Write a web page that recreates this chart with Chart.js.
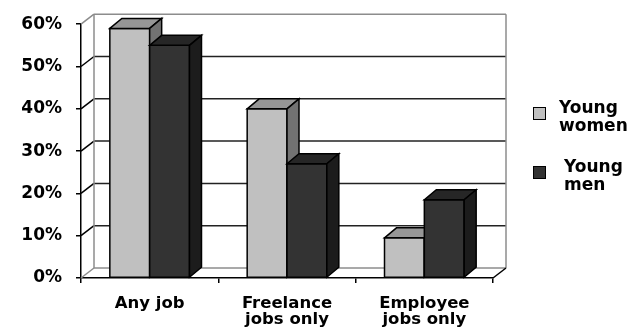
<!DOCTYPE html>
<html>
<head>
<meta charset="utf-8">
<script src="https://cdn.jsdelivr.net/npm/chart.js@4.4.0/dist/chart.umd.min.js"></script>
<style>
  html, body { margin: 0; padding: 0; background: #fff; }
  #wrap { width: 641px; height: 335px; }
</style>
</head>
<body>
<div id="wrap"><canvas id="chart" width="641" height="335"></canvas></div>
<script>
// chart data
const categories = ['Any job', ['Freelance', 'jobs only'], ['Employee', 'jobs only']];
const seriesNames = [['Young', 'women'], ['Young', 'men']];
const youngWomen = [59, 40, 9.5];
const youngMen = [55, 27, 18.5];
const yTicks = [0, 10, 20, 30, 40, 50, 60];

const FONT = '"DejaVu Sans", Verdana, sans-serif';
const WALL = { dx: 13, dy: -10 };  // depth of the back wall / floor
const BAR = { dx: 12, dy: -10 };   // depth of every bar

// front / top / side face colours per series
const faces = [
    { front: '#c0c0c0', top: '#969696', side: '#727272' },
    { front: '#333333', top: '#262626', side: '#1c1c1c' }
];

function line(ctx, x1, y1, x2, y2) {
    ctx.beginPath();
    ctx.moveTo(x1, y1);
    ctx.lineTo(x2, y2);
    ctx.stroke();
}

function poly(ctx, pts, fill) {
    ctx.beginPath();
    ctx.moveTo(pts[0][0], pts[0][1]);
    for (let i = 1; i < pts.length; i++) ctx.lineTo(pts[i][0], pts[i][1]);
    ctx.closePath();
    ctx.fillStyle = fill;
    ctx.fill();
    ctx.stroke();
}

// back wall, floor and the 3d faces of the bars
const box3d = {
    id: 'box3d',
    beforeDatasetsDraw(chart) {
        const { ctx, chartArea: a, scales: { y } } = chart;
        const L = a.left, R = a.right, T = a.top, B = a.bottom;
        ctx.save();
        ctx.lineWidth = 1.5;

        // grid lines on the back wall + slanted lines on the left wall
        yTicks.forEach(v => {
            const py = y.getPixelForValue(v);
            const edge = (v === yTicks[0] || v === yTicks[yTicks.length - 1]);
            ctx.strokeStyle = edge ? '#8c8c8c' : '#222';
            line(ctx, L + WALL.dx, py + WALL.dy, R + WALL.dx, py + WALL.dy);
            ctx.strokeStyle = edge ? '#8c8c8c' : '#000';
            line(ctx, L, py, L + WALL.dx, py + WALL.dy);
        });

        // wall edges
        ctx.strokeStyle = '#8c8c8c';
        line(ctx, L + WALL.dx, T + WALL.dy, L + WALL.dx, B + WALL.dy);
        line(ctx, R + WALL.dx, T + WALL.dy, R + WALL.dx, B + WALL.dy);
        ctx.strokeStyle = '#000';
        line(ctx, R, B, R + WALL.dx, B + WALL.dy);
        ctx.restore();
    },
    afterDatasetsDraw(chart) {
        const { ctx } = chart;
        ctx.save();
        ctx.lineWidth = 1.5;
        ctx.strokeStyle = '#000';
        ctx.lineJoin = 'miter';
        for (let i = 0; i < categories.length; i++) {
            chart.data.datasets.forEach((ds, d) => {
                const el = chart.getDatasetMeta(d).data[i];
                const { x, y, base, width } = el.getProps(['x', 'y', 'base', 'width'], true);
                const l = x - width / 2, r = x + width / 2;
                const f = faces[d];
                poly(ctx, [[l, y], [r, y], [r, base], [l, base]], f.front);
                poly(ctx, [[l, y], [l + BAR.dx, y + BAR.dy], [r + BAR.dx, y + BAR.dy], [r, y]], f.top);
                poly(ctx, [[r, y], [r + BAR.dx, y + BAR.dy], [r + BAR.dx, base + BAR.dy], [r, base]], f.side);
            });
        }
        ctx.restore();
    },
    afterDraw(chart) {
        // legend on the right
        const { ctx } = chart;
        const items = [
            { box: 107, textX: 559, base: 113 },
            { box: 166, textX: 564, base: 172 }
        ];
        ctx.save();
        ctx.font = 'bold 17px ' + FONT;
        ctx.textBaseline = 'alphabetic';
        ctx.textAlign = 'left';
        items.forEach((it, d) => {
            ctx.fillStyle = faces[d].front;
            ctx.strokeStyle = '#000';
            ctx.lineWidth = 1;
            ctx.fillRect(533, it.box, 13, 13);
            ctx.strokeRect(533.5, it.box + 0.5, 12, 12);
            ctx.fillStyle = '#000';
            seriesNames[d].forEach((t, k) => ctx.fillText(t, it.textX, it.base + k * 18));
        });
        ctx.restore();
    }
};

new Chart(document.getElementById('chart'), {
    type: 'bar',
    data: {
        labels: categories,
        datasets: [
            { label: 'Young women', data: youngWomen, backgroundColor: faces[0].front },
            { label: 'Young men', data: youngMen, backgroundColor: faces[1].front }
        ]
    },
    options: {
        responsive: false,
        animation: false,
        devicePixelRatio: 1,
        layout: { padding: { top: 20, right: 148, left: 0, bottom: 0 } },
        datasets: { bar: { categoryPercentage: 0.58, barPercentage: 1 } },
        plugins: { legend: { display: false }, tooltip: { enabled: false } },
        scales: {
            x: {
                afterFit: s => { s.height = 57; },
                grid: { offset: true, drawOnChartArea: false, tickLength: 5, color: '#000', lineWidth: 1.5 },
                border: { color: '#000', width: 1.5 },
                ticks: { color: '#000', font: { family: FONT, size: 16.5, weight: 'bold', lineHeight: 1.0 }, padding: 12, maxRotation: 0 }
            },
            y: {
                min: 0,
                max: 60,
                afterFit: s => { s.width = 81; },
                grid: { drawOnChartArea: false, tickLength: 5, color: '#000', lineWidth: 1.5 },
                border: { color: '#000', width: 1.5 },
                ticks: { stepSize: 10, color: '#000', padding: 14, font: { family: FONT, size: 17, weight: 'bold' }, callback: v => v + '%' }
            }
        }
    },
    plugins: [box3d]
});
</script>
</body>
</html>
